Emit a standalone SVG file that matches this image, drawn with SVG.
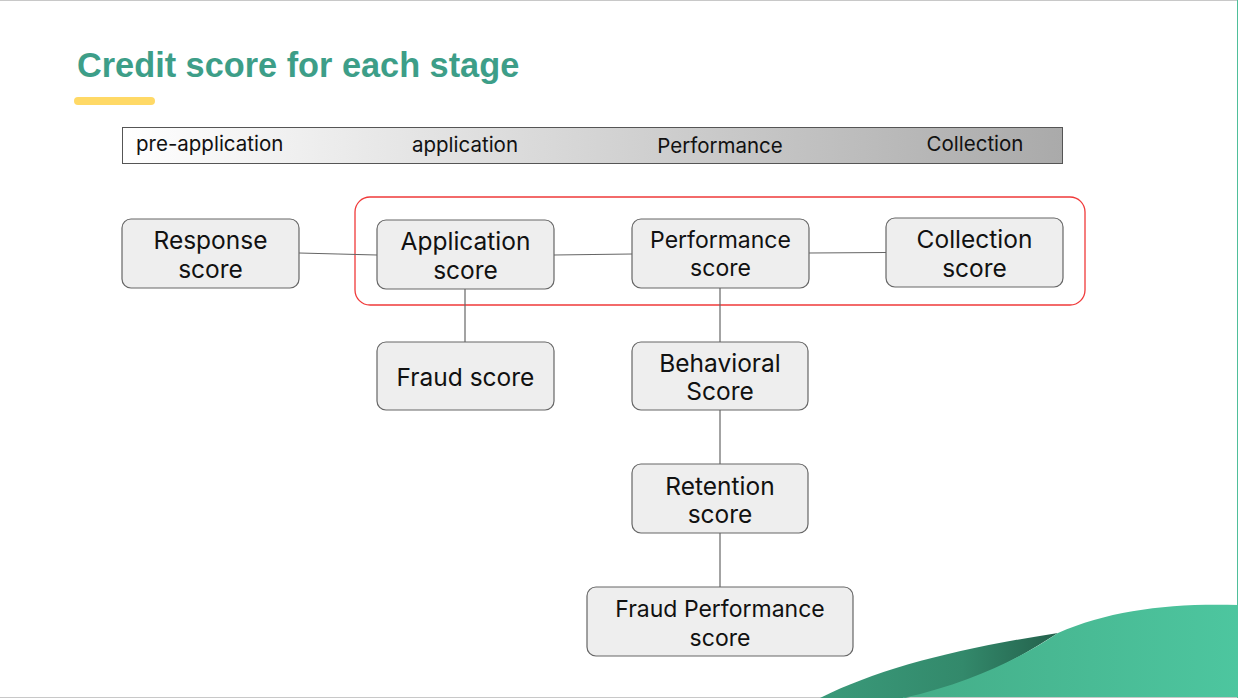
<svg xmlns="http://www.w3.org/2000/svg" width="1238" height="698" viewBox="0 0 1238 698">
<defs>
<linearGradient id="bar" x1="0" y1="0" x2="1" y2="0">
<stop offset="0" stop-color="#ffffff"/>
<stop offset="1" stop-color="#aaaaaa"/>
</linearGradient>
<linearGradient id="waveBack" x1="0" y1="0" x2="1" y2="0">
<stop offset="0" stop-color="#3a9a7a"/>
<stop offset="0.6" stop-color="#33896b"/>
<stop offset="1" stop-color="#23604b"/>
</linearGradient>
<linearGradient id="waveFront" x1="0" y1="0" x2="1" y2="0">
<stop offset="0" stop-color="#44ad88"/>
<stop offset="1" stop-color="#4dc69f"/>
</linearGradient>
<style>
.node rect{fill:#eeeeee;stroke:#666666;stroke-width:1.2}
.node text{font-family:Inter,"Noto Sans",sans-serif;font-size:24.5px;fill:#111111;text-anchor:middle}
.node text.sm{font-size:23px}
.conn line{stroke:#666666;stroke-width:1.2}
.stage{font-family:Inter,"Noto Sans",sans-serif;font-size:20.5px;fill:#111111}
</style>
</defs>
<rect x="0" y="0" width="1238" height="698" fill="#ffffff"/>
<line x1="0" y1="0.5" x2="1238" y2="0.5" stroke="#c8c8c8"/>
<line x1="0" y1="697.5" x2="1238" y2="697.5" stroke="#c8c8c8"/>
<line x1="1237.5" y1="0" x2="1237.5" y2="698" stroke="#4fbf9a"/>

<text x="77" y="77" font-family="'Liberation Sans',Arial,sans-serif" font-weight="bold" font-size="34.3" fill="#3d9e88">Credit score for each stage</text>
<rect x="74" y="97" width="81" height="8" rx="4" fill="#ffd966"/>

<g id="stages">
<rect x="122.5" y="127.5" width="940" height="36" fill="url(#bar)" stroke="#555555" stroke-width="1"/>
<text class="stage" x="136" y="151">pre-application</text>
<text class="stage" x="465" y="152" text-anchor="middle">application</text>
<text class="stage" x="720" y="153" text-anchor="middle">Performance</text>
<text class="stage" x="975" y="151" text-anchor="middle">Collection</text>
</g>

<g id="group-box">
<rect x="355" y="197" width="730" height="108" rx="15" fill="none" stroke="#f03a3a" stroke-width="1.3"/>
</g>

<g id="connectors" class="conn">
<line x1="299" y1="253" x2="377" y2="255"/>
<line x1="554" y1="255" x2="632" y2="254"/>
<line x1="809" y1="253" x2="886" y2="252.5"/>
<line x1="465" y1="289" x2="465" y2="342"/>
<line x1="720" y1="288" x2="720" y2="342"/>
<line x1="720" y1="410" x2="720" y2="464"/>
<line x1="720" y1="533" x2="720" y2="587"/>
</g>

<g id="response" class="node">
<rect x="122" y="219" width="177" height="69" rx="9"/>
<text x="210.5" y="249">Response</text>
<text x="210.5" y="278">score</text>
</g>
<g id="application" class="node">
<rect x="377" y="220" width="177" height="69" rx="9"/>
<text x="465.5" y="250">Application</text>
<text x="465.5" y="279">score</text>
</g>
<g id="performance" class="node">
<rect x="632" y="219" width="177" height="69" rx="9"/>
<text class="sm" x="720.5" y="248">Performance</text>
<text class="sm" x="720.5" y="276">score</text>
</g>
<g id="collection" class="node">
<rect x="886" y="218" width="177" height="69" rx="9"/>
<text x="974.5" y="248">Collection</text>
<text x="974.5" y="277">score</text>
</g>
<g id="fraud" class="node">
<rect x="377" y="342" width="177" height="68" rx="9"/>
<text x="465.5" y="386">Fraud score</text>
</g>
<g id="behavioral" class="node">
<rect x="632" y="342" width="176" height="68" rx="9"/>
<text x="720" y="372">Behavioral</text>
<text x="720" y="400">Score</text>
</g>
<g id="retention" class="node">
<rect x="632" y="464" width="176" height="69" rx="9"/>
<text x="720" y="495">Retention</text>
<text x="720" y="523">score</text>
</g>
<g id="fraud-performance" class="node">
<rect x="587" y="587" width="266" height="69" rx="9"/>
<text class="sm" x="720" y="617">Fraud Performance</text>
<text class="sm" x="720" y="646">score</text>
</g>

<g id="wave">
<path d="M 820 698 C 880 668, 960 648, 1058 633 C 1010 664, 960 690, 905 698 Z" fill="url(#waveBack)"/>
<path d="M 903 698 C 975 682, 1025 655, 1058 633 C 1110 610, 1170 603, 1238 605 L 1238 697 L 903 697 Z" fill="url(#waveFront)"/>
</g>
</svg>
